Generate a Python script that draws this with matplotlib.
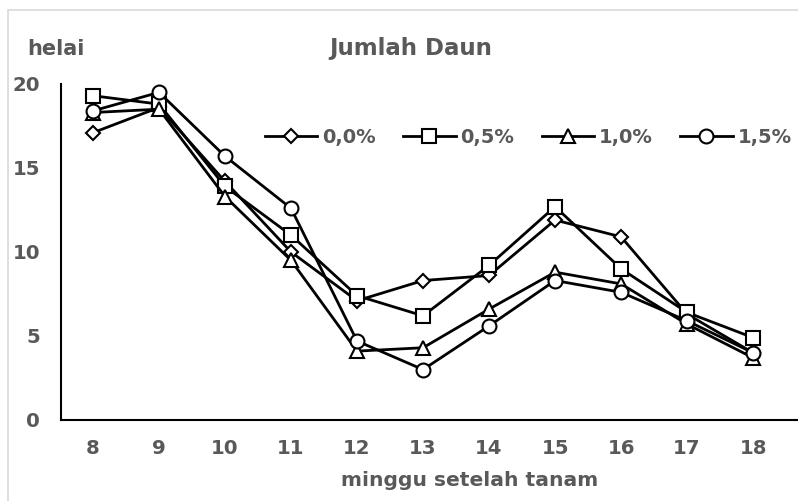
import matplotlib
matplotlib.use('Agg')
import matplotlib.pyplot as plt
from matplotlib.patches import Rectangle

weeks = [8, 9, 10, 11, 12, 13, 14, 15, 16, 17, 18]
labels = ['0,0%', '0,5%', '1,0%', '1,5%']
leaf_00 = [17.1, 18.6, 14.2, 10.0, 7.1, 8.3, 8.6, 11.9, 10.9, 6.3, 4.0]
leaf_05 = [19.3, 18.8, 13.9, 11.0, 7.4, 6.2, 9.2, 12.7, 9.0, 6.4, 4.9]
leaf_10 = [18.3, 18.5, 13.3, 9.5, 4.1, 4.3, 6.6, 8.8, 8.1, 5.7, 3.7]
leaf_15 = [18.4, 19.5, 15.7, 12.6, 4.7, 3.0, 5.6, 8.3, 7.6, 5.9, 4.0]
series = [leaf_00, leaf_05, leaf_10, leaf_15]
markers = ['D', 's', '^', 'o']
msizes = [7, 9.5, 9.5, 10]

grey = '#595959'
# the original text looks horizontally stretched, DejaVu's wide glyphs fit it
plt.rcParams['font.family'] = ['DejaVu Sans']
plt.rcParams['font.weight'] = 'bold'

fig = plt.figure(figsize=(7.98, 5.01), dpi=100)
fig.patches.append(Rectangle((0.01, -0.1), 1.1, 1.08, transform=fig.transFigure,
                             fill=False, edgecolor='#d9d9d9', lw=1.2))
ax = fig.add_axes([0.0764, 0.1617, 0.9236, 0.6707])

x = list(range(len(weeks)))
for vals, m, ms, lab in zip(series, markers, msizes, labels):
    ax.plot(x, vals, color='black', lw=2, marker=m, ms=ms, mfc='white',
            mec='black', mew=1.5, label=lab, clip_on=False)

ax.set_xlim(-0.485, 10.68)
ax.set_ylim(0, 20)
ax.set_xticks(x)
ax.set_xticklabels([str(w) for w in weeks])
ax.set_yticks([0, 5, 10, 15, 20])
ax.tick_params(length=0, labelsize=14.2, labelcolor=grey)
ax.tick_params(axis='x', pad=14)
ax.tick_params(axis='y', pad=15)
for s in ['right', 'top']:
    ax.spines[s].set_visible(False)
for s in ['left', 'bottom']:
    ax.spines[s].set_linewidth(1.5)
    ax.spines[s].set_color('black')

ax.set_xlabel('minggu setelah tanam', fontsize=14.6, color=grey,
              fontweight='bold')
ax.xaxis.set_label_coords(0.555, -0.18)
ax.xaxis.label.set_va('center')
fig.text(0.034, 0.890, 'helai', fontsize=15, color=grey, fontweight='bold',
         va='baseline')
fig.text(0.515, 0.890, 'Jumlah Daun', fontsize=16.5, color=grey,
         fontweight='bold', ha='center', va='baseline')

leg = ax.legend(loc='center', bbox_to_anchor=(0.634, 0.842), ncol=4, frameon=False,
                fontsize=14, handlelength=2.7, columnspacing=1.4,
                handletextpad=0.25, borderpad=0, borderaxespad=0)
for t in leg.get_texts():
    t.set_color(grey)

fig.savefig('out.png', dpi=100)
